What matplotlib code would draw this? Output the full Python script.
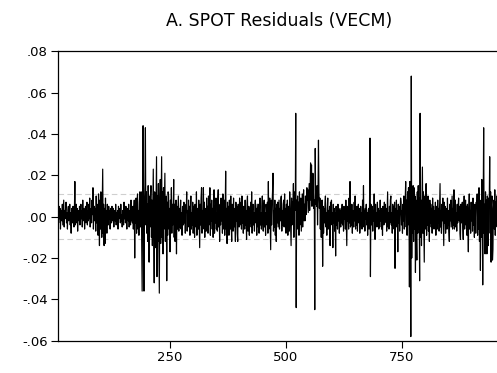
import numpy as np
import matplotlib
matplotlib.use('Agg')
import matplotlib.pyplot as plt
from matplotlib.ticker import FuncFormatter

plt.rcParams['font.family'] = ['DejaVu Sans']

# Residuals, in thousandths, one list per stretch of the sample
first_obs = 9
resid_calm_start = [
    2, -3, 5, -1, 4, -6, 1, 3, -2, 6, -4, 2, 8, -5, 3, -1, 4, 7, -3, 2,
    -6, 3, 5, -2, 1, 6, -4, 2, -8, 4, 1, -3, 5, 2, -5, 3, 17, -4, 2, 6,
    -3, 4, -7, 1, 3, -2, 5, -4, 2, 6, -1, 3, -5, 8, -2, 1, 4, -6, 2, 5,
    -3, 1, 7, -4, 3, -2, 6, -1, 9, -5, 2, 4, -3, 8, 1, 14, -6, 3, 5, -2,
    4, -7, 10, -3, 6, 2, -9, 11, 5, -14, 8, -6, 12, 3, -10, 7, 23, -8, 6, -14,
    4, -13, 9, -5, 3, -8, 6, 2, -4, 5, -1, 3, -6, 4, 2, -3, 5, -2, 1, 4,
    -5, 3, 1, -2, 6, -4, 2, 0, 3, -6, 5, -1, 2, 4, -3, 6, -2, 1, -5, 3,
    2, -4, 7, -1, 3, -3, 5, 1, -6, 4, 2, -2, 6, -5, 3, 1, -4, 8, -2, 4,
    -3, 5,
]
resid_cluster_200 = [
    -6, 2, 8, -20, 5, -3, 9, -8, 4, 11, -6, 3, -9, 7, 12, -5, 2, 12, -14, -36,
    10, 44, 8, -36, 6, 15, 43, -4, 12, -8, 6, -12, 15, -7, -22, 10, -5, 9, 15, -10,
    8, -14, 6, 23, -9, -32, 12, 5, -15, 8, 29, -29, 10, -12, 16, -8, -37, 6, 18, -13,
    9, 29, -10, 12, -18, 14, -6, 8, 21, -12, 5, 10, -31, 7, -9, 12, 10, -6, 4, -17,
    8, -5, 14, -8, 6, -4, 3, 18, -10, 6, -12, 4, 8, -18, 5, -6, 3, 10, -7, 4,
]
resid_middle = [
    -5, 3, 8, -6, 2, -9, 5, 1, -4, 7, -3, 6, -8, 4, 2, 12, -7, 3, -5, 8,
    -2, 5, -9, 4, 10, -6, 2, -4, 7, -8, 5, 1, -10, 6, 3, -5, 12, -9, 4, 2,
    -6, 8, -3, -15, 6, -4, 9, 14, -8, 3, -6, 14, -5, 7, -10, 4, 2, -7, 9, -3,
    5, -8, 10, -4, 3, 14, -9, 6, -2, 8, -6, 4, -10, 7, 13, -8, 5, -3, 9, -6,
    2, -7, 8, 13, -5, 3, -12, 6, -4, 9, -2, 5, -8, 11, 4, -6, 8, -9, 3, 22,
    -6, 4, -13, 7, -3, 5, -9, 8, 2, -6, 10, -4, -12, 6, 3, -7, 9, -5, 4, -3,
    -12, 7, -2, 5, -8, -12, 6, 3, -5, 9, -4, 2, 7, -6, 10, -3, 4, -8, 5, 1,
    -6, 8, -4, 3, -11, 6, 10, -7, 2, 5, -9, 4, -3, 7, -5, 12, -8, 3, 6, -4,
    2, -7, 5, 8, -3, 4, -9, 6, 1, -5,
]
resid_spikes_500 = [
    6, -8, 3, 9, -4, 2, -6, 5, 10, -3, -7, 4, 8, -5, 2, -9, 6, 3, -4, 7,
    -8, 17, -6, 5, 9, -3, -16, 8, -4, 6, 12, 21, -7, 3, -5, 8, -9, 4, -12, 6,
    -3, 7, -5, 2, 8, -6, 4, -2, 9, 10, -7, 3, -4, 6, 8, -5, 11, -3, 4, -8,
    6, -2, 8, -9, 5, 3, -7, 12, 4, -6, -14, 9, -4, 7, 5, 16, -10, 6, 12, 3,
    50, -44, 8, -6, 10, -3, 7, -9, 12, -4, 5, 9, -7, 3, 11, -5, 8, 13, -2, 6,
    -2, 10, 4, 1, 14, 8, 13, 2, 9, 16, 3, 12, 26, 8, 25, 5, 10, 21, 12, 4,
]
resid_after_560 = [
    8, -45, 33, 6, 12, 5, 15, -4, 10, 37, 12, 4, 9, -6, 8, -10, 3, 8, -24, 5,
    -8, 4, -3, 6, 10, -5, 2, -9, 4, 9, -6, 3, -2, 5, -14, 7, -4, 8, -3, 2,
    -15, 6, -3, 4, -7, 2, -19, 5, -4, 3, -6, 6, -2, 4, -8, 3, 1, -5, 4, -3,
    6, -4, 2, -7, 5, -1, 3, -6, 8, -3, -14, 5, -2, 4, -6, 9, -3, 17, -5, 2,
    -4, 6, -8, 3, 1, -5, 7, -2, 10, -6, 3, -4, 5, -7, 2, 6, -3, 4, -8, -4,
    5, -3, 2, -6, 8, -2, 15, -5, 3, -7, 4, -1, 6, -4, 2, -9, 3, 4, -6, 5,
    38, -29, 6, -4, 2, 5, -7, 3, -2, 11, -4, -11, 6, -3, 2, -5, 7, -2, 4, -6,
]
resid_cluster_770 = [
    3, -5, 8, -2, 4, -6, 2, -9, 5, 1, -4, 7, -3, 6, -2, 4, -7, 3, 12, -5,
    2, -6, 5, -3, 8, 10, -4, 2, -8, 6, -3, 5, -6, 7, -25, 4, -2, 8, -5, 3,
    -17, 6, -3, 5, -7, 2, 9, 7, -4, 3, -8, 6, -2, 10, -6, 4, 9, 17, -5, 8,
    -9, 12, -4, 14, 3, -34, 17, 5, -58, 68, -20, 12, -8, 15, -12, 14, -6, 10, -27, 8,
    -10, -21, 12, -8, 15, -6, 9, -31, 50, -10, 8, -14, 6, 24, -8, 12, -5, -22, 10, -6,
    7, 16, -9, 5, -4, 10, -7, 3, -12, 8, -3, 6, -5, 4, -8, 9, -2, 5, -6, 3,
    -4, 7, -9, 5, 2, -6, 8, -3, 4, -7, 6, 16, -5, 3, -8, 6, -2, 9, -4, -14,
    7, -3, 5, -8, 4, 2, -6, 9, -4, 3, -7, -12, 6, -2, 8, -5, 3, 10, -6, 4,
]
resid_end = [
    -4, 13, -6, 3, 8, -5, 2, -7, 6, -3, 4, 9, -2, 5, -8, -11, 6, -3, 4, 7,
    -5, -11, 3, 10, -6, 2, 8, -4, 5, -9, 6, -3, -17, 4, 11, -6, 3, -8, 7, -2,
    5, -7, 9, -4, 3, -10, 6, 2, -8, 7, 4, 11, -9, 5, -6, 14, -12, 8, -26, 6,
    -10, 18, 5, -33, 10, 43, -8, 6, -18, 12, -9, 8, -18, 10, -6, -14, 9, 5, 29, -8,
    12, -22, 6, 10, -21, -16, 4, 8, -6, 13, -9, 7, -4, 10, -5, 3, -7, 6, 2, -4, 5, -3,
]
band = 0.0108  # dashed reference band

resid = np.array(resid_calm_start + resid_cluster_200 + resid_middle + resid_spikes_500
                 + resid_after_560 + resid_cluster_770 + resid_end) / 1000.0
obs = first_obs + np.arange(len(resid))

fig = plt.figure(figsize=(4.97, 3.73), dpi=100)
ax = fig.add_axes([0.1173, 0.0866, 0.8876, 0.7759])

ax.axhline(band, color='#cfcfcf', lw=0.8, ls=(0, (5, 3)), zorder=1)
ax.axhline(-band, color='#cfcfcf', lw=0.8, ls=(0, (5, 3)), zorder=1)
ax.plot(obs, resid, color='black', lw=0.85, zorder=2)

ax.set_xlim(9.3, 960)
ax.set_ylim(-0.06, 0.08)
ax.set_xticks([250, 500, 750])
ax.set_yticks(np.arange(-0.06, 0.081, 0.02))
ax.yaxis.set_major_formatter(FuncFormatter(lambda v, p: ('%.2f' % v).replace('0.', '.')))
ax.tick_params(direction='out', length=5, width=0.8, labelsize=9.5, colors='black', pad=2.5)
for s in ax.spines.values():
    s.set_linewidth(0.9)

fig.text(0.5615, 0.945, 'A. SPOT Residuals (VECM)', ha='center', va='center', fontsize=12.5)

fig.savefig('out.png', dpi=100)
